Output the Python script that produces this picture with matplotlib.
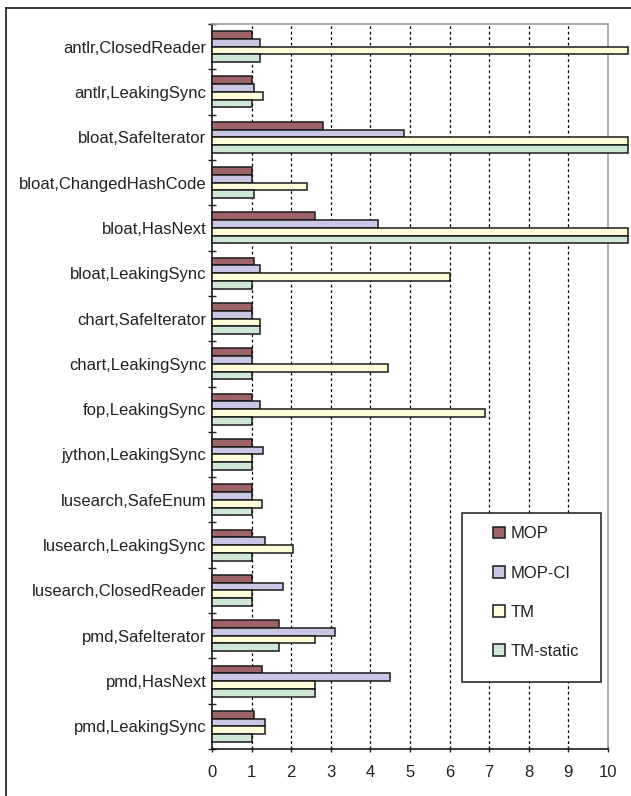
import matplotlib
matplotlib.use("Agg")
import matplotlib.pyplot as plt
from matplotlib.lines import Line2D
from matplotlib.patches import Rectangle
import numpy as np

plt.rcParams['font.family'] = ['Liberation Sans', 'DejaVu Sans']

# benchmark,property pairs (top to bottom)
categories = [
    "antlr,ClosedReader", "antlr,LeakingSync", "bloat,SafeIterator",
    "bloat,ChangedHashCode", "bloat,HasNext", "bloat,LeakingSync",
    "chart,SafeIterator", "chart,LeakingSync", "fop,LeakingSync",
    "jython,LeakingSync", "lusearch,SafeEnum", "lusearch,LeakingSync",
    "lusearch,ClosedReader", "pmd,SafeIterator", "pmd,HasNext",
    "pmd,LeakingSync",
]
# values above the axis max run off the right edge (drawn at 10.5)
mop = [1.0, 1.0, 2.8, 1.0, 2.6, 1.05, 1.0, 1.0, 1.0, 1.0, 1.0, 1.0, 1.0, 1.7, 1.25, 1.05]
mop_ci = [1.2, 1.05, 4.85, 1.0, 4.2, 1.2, 1.0, 1.0, 1.2, 1.3, 1.0, 1.35, 1.8, 3.1, 4.5, 1.35]
tm = [10.5, 1.3, 10.5, 2.4, 10.5, 6.0, 1.2, 4.45, 6.9, 1.0, 1.25, 2.05, 1.0, 2.6, 2.6, 1.35]
tm_static = [1.2, 1.0, 10.5, 1.05, 10.5, 1.0, 1.2, 1.0, 1.0, 1.0, 1.0, 1.0, 1.0, 1.7, 2.6, 1.0]

series = [("MOP", mop, "#9e6468"), ("MOP-CI", mop_ci, "#c9c6e6"),
          ("TM", tm, "#fffed8"), ("TM-static", tm_static, "#cfe8d6")]

fig = plt.figure(figsize=(6.31, 7.96), dpi=100)
ax = fig.add_axes([212 / 631, 1 - 749 / 796, (608 - 212) / 631, (749 - 24) / 796])

y = np.arange(len(categories))
h = 0.171
for j, (name, vals, col) in enumerate(series):
    ax.barh(y + (j - 1.5) * h, vals, height=h, color=col, edgecolor="#1a1a1a",
            linewidth=1.1, label=name, clip_on=False, zorder=3)

ax.set_xlim(0, 10)
ax.set_ylim(len(categories) - 0.5, -0.5)

# dashed grid at the inner integers
for gx in range(1, 10):
    ax.axvline(gx, color="black", linestyle=(0, (2.2, 2.2)), linewidth=0.9, zorder=1)

ax.set_xticks(range(11))
ax.tick_params(axis="x", direction="inout", length=5, width=1, pad=9,
               labelsize=12, colors="#222222")
ax.set_yticks(y)
ax.set_yticklabels(categories)
ax.tick_params(axis="y", which="major", length=0, pad=4, labelsize=12, colors="#222222")
ax.set_yticks(np.arange(-0.5, len(categories)), minor=True)
ax.tick_params(axis="y", which="minor", direction="inout", length=6, width=1, color="#222222")

for s in ["left", "bottom"]:
    ax.spines[s].set_color("#1a1a1a")
    ax.spines[s].set_linewidth(1.2)
for s in ["top", "right"]:
    ax.spines[s].set_color("#a0a0a0")
    ax.spines[s].set_linewidth(1.2)

# legend with a hand-placed frame
fig.add_artist(Rectangle((462 / 631, 1 - 682 / 796), (601 - 462) / 631, (682 - 513) / 796,
                         transform=fig.transFigure, facecolor="white",
                         edgecolor="#1a1a1a", linewidth=1.1, zorder=5))
leg = fig.legend(loc="upper left", bbox_to_anchor=(485 / 631, 1 - 518 / 796),
                 frameon=False, fontsize=12, handlelength=0.7, handleheight=0.7,
                 handletextpad=0.35, labelspacing=1.45, borderpad=0)
leg.set_zorder(6)
for t in leg.get_texts():
    t.set_color("#222222")

# outer chart border
fig.add_artist(Line2D([6 / 631, 1], [1 - 8 / 796, 1 - 8 / 796], transform=fig.transFigure,
                      color="#1a1a1a", linewidth=1.2))
fig.add_artist(Line2D([6 / 631, 6 / 631], [0, 1 - 8 / 796], transform=fig.transFigure,
                      color="#1a1a1a", linewidth=1.2))

fig.savefig("out.png", dpi=100)
